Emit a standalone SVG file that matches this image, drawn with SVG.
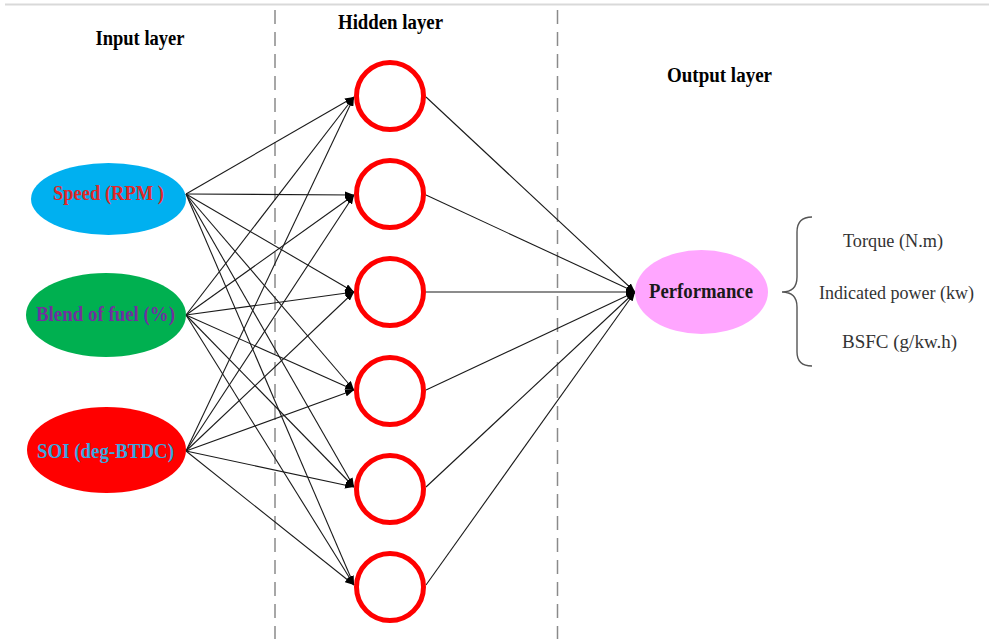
<svg xmlns="http://www.w3.org/2000/svg" width="989" height="639" viewBox="0 0 989 639">
<style>
.t{font-family:"Liberation Serif","Times New Roman",serif;text-anchor:middle}
.b{font-weight:bold;font-size:20px}
.r{font-size:18.5px;fill:#333}
.hd{fill:#fff;stroke:#ff0000;stroke-width:5}
.ln{stroke:#1a1a1a;stroke-width:1.1;fill:none;marker-end:url(#arr)}
.dash{stroke:#8a8a8a;stroke-width:1.5;stroke-dasharray:14 8;fill:none}
</style>
<defs>
<marker id="arr" markerWidth="9" markerHeight="7" refX="9" refY="3.5" orient="auto" markerUnits="userSpaceOnUse">
<path d="M0,0 L9,3.5 L0,7 z" fill="#000"/>
</marker>
</defs>
<rect width="989" height="639" fill="#fff"/>
<line x1="5" y1="4.5" x2="989" y2="4.5" stroke="#d9d9d9" stroke-width="2"/>
<g id="dividers">
<line class="dash" x1="275" y1="10" x2="275" y2="639"/>
<line class="dash" x1="557.5" y1="10" x2="557.5" y2="639"/>
</g>
<g id="titles">
<text class="t b" x="140" y="45" textLength="89" lengthAdjust="spacingAndGlyphs">Input layer</text>
<text class="t b" x="390.5" y="29" textLength="105" lengthAdjust="spacingAndGlyphs">Hidden layer</text>
<text class="t b" x="719.5" y="82" textLength="105" lengthAdjust="spacingAndGlyphs">Output layer</text>
</g>
<g id="connectors">
<line class="ln" x1="186" y1="194" x2="354" y2="97"/>
<line class="ln" x1="186" y1="194" x2="354" y2="195"/>
<line class="ln" x1="186" y1="194" x2="354" y2="292"/>
<line class="ln" x1="186" y1="194" x2="354" y2="390"/>
<line class="ln" x1="186" y1="194" x2="354" y2="487"/>
<line class="ln" x1="186" y1="194" x2="354" y2="585"/>
<line class="ln" x1="186" y1="315" x2="354" y2="97"/>
<line class="ln" x1="186" y1="315" x2="354" y2="195"/>
<line class="ln" x1="186" y1="315" x2="354" y2="292"/>
<line class="ln" x1="186" y1="315" x2="354" y2="390"/>
<line class="ln" x1="186" y1="315" x2="354" y2="487"/>
<line class="ln" x1="186" y1="315" x2="354" y2="585"/>
<line class="ln" x1="186" y1="451" x2="354" y2="97"/>
<line class="ln" x1="186" y1="451" x2="354" y2="195"/>
<line class="ln" x1="186" y1="451" x2="354" y2="292"/>
<line class="ln" x1="186" y1="451" x2="354" y2="390"/>
<line class="ln" x1="186" y1="451" x2="354" y2="487"/>
<line class="ln" x1="186" y1="451" x2="354" y2="585"/>
<line class="ln" x1="426" y1="97" x2="635" y2="292"/>
<line class="ln" x1="426" y1="195" x2="635" y2="292"/>
<line class="ln" x1="426" y1="292" x2="635" y2="292"/>
<line class="ln" x1="426" y1="390" x2="635" y2="292"/>
<line class="ln" x1="426" y1="487" x2="635" y2="292"/>
<line class="ln" x1="426" y1="585" x2="635" y2="292"/>
</g>
<g id="in-speed">
<ellipse cx="108.5" cy="199" rx="77.5" ry="36" fill="#00b0f0"/>
<text class="t b" x="108.5" y="200" fill="#e02828" textLength="111" lengthAdjust="spacingAndGlyphs">Speed (RPM )</text>
</g>
<g id="in-blend">
<ellipse cx="106" cy="315" rx="80" ry="42" fill="#00b050"/>
<text class="t b" x="105.5" y="321" fill="#7030a0" textLength="139" lengthAdjust="spacingAndGlyphs">Blend of fuel (%)</text>
</g>
<g id="in-soi">
<ellipse cx="106.5" cy="450" rx="79.5" ry="43" fill="#ff0000"/>
<text class="t b" x="105.5" y="458" fill="#3aa6df" textLength="137" lengthAdjust="spacingAndGlyphs">SOI (deg-BTDC)</text>
</g>
<g id="h1"><circle class="hd" cx="390" cy="96" r="33.5"/></g>
<g id="h2"><circle class="hd" cx="390" cy="194" r="33.5"/></g>
<g id="h3"><circle class="hd" cx="390" cy="292" r="33.5"/></g>
<g id="h4"><circle class="hd" cx="390" cy="391" r="33.5"/></g>
<g id="h5"><circle class="hd" cx="390" cy="489" r="33.5"/></g>
<g id="h6"><circle class="hd" cx="390" cy="587" r="33.5"/></g>
<g id="out-performance">
<ellipse cx="701.5" cy="292" rx="66.5" ry="42" fill="#ffa6ff"/>
<text class="t b" x="701" y="298" fill="#1a1a1a" textLength="104" lengthAdjust="spacingAndGlyphs">Performance</text>
</g>
<g id="outputs">
<path d="M812,217 Q797,217 797,232 L797,277 Q797,292 782,292 Q797,292 797,307 L797,352 Q797,366 812,366" fill="none" stroke="#555" stroke-width="1.4"/>
<text class="t r" x="893" y="247" textLength="100" lengthAdjust="spacingAndGlyphs">Torque (N.m)</text>
<text class="t r" x="896.5" y="299" textLength="155" lengthAdjust="spacingAndGlyphs">Indicated power (kw)</text>
<text class="t r" x="899.5" y="348" textLength="115" lengthAdjust="spacingAndGlyphs">BSFC (g/kw.h)</text>
</g>
</svg>
